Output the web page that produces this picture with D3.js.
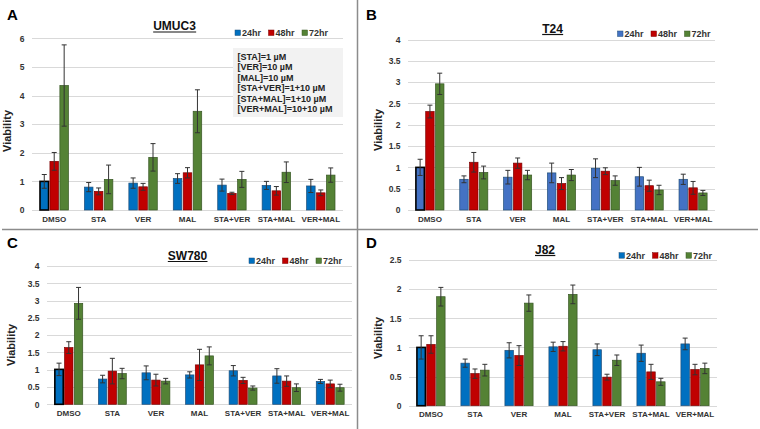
<!DOCTYPE html>
<html><head><meta charset="utf-8">
<script src="https://cdn.jsdelivr.net/npm/d3@7"></script>
<style>
html,body{margin:0;padding:0;background:#fff;}
svg{display:block;font-family:"Liberation Sans",Arial,sans-serif;}
</style></head>
<body><svg id="chart" width="760" height="429"></svg>
<script>
// ---------------- DATA ----------------
const categories = ["DMSO","STA","VER","MAL","STA+VER","STA+MAL","VER+MAL"];
const seriesNames = ["24hr","48hr","72hr"];

// UMUC3 (panel A)
const umuc3_24 = [1.00,0.80,0.94,1.10,0.87,0.86,0.84];
const umuc3_48 = [1.70,0.65,0.81,1.30,0.58,0.67,0.60];
const umuc3_72 = [4.35,1.07,1.84,3.45,1.07,1.32,1.22];
const umuc3_err24 = [0.24,0.16,0.18,0.17,0.21,0.14,0.23];
const umuc3_err48 = [0.31,0.12,0.12,0.18,0.04,0.15,0.10];
const umuc3_err72 = [1.42,0.50,0.48,0.75,0.28,0.36,0.25];
const umuc3_ticks = [0,1,2,3,4,5,6];

// T24 (panel B)
const t24_24 = [1.00,0.72,0.77,0.87,0.98,0.78,0.72];
const t24_48 = [2.31,1.12,1.10,0.62,0.91,0.57,0.52];
const t24_72 = [2.96,0.88,0.82,0.82,0.69,0.47,0.40];
const t24_err24 = [0.19,0.08,0.16,0.23,0.22,0.22,0.12];
const t24_err48 = [0.15,0.23,0.12,0.14,0.08,0.13,0.15];
const t24_err72 = [0.25,0.15,0.11,0.13,0.11,0.11,0.06];
const t24_ticks = [0,0.5,1,1.5,2,2.5,3,3.5,4];

// SW780 (panel C)
const sw780_24 = [1.01,0.73,0.91,0.85,0.97,0.82,0.66];
const sw780_48 = [1.64,0.96,0.70,1.14,0.69,0.67,0.59];
const sw780_72 = [2.92,0.89,0.67,1.40,0.47,0.48,0.48];
const sw780_err24 = [0.18,0.11,0.20,0.09,0.15,0.21,0.06];
const sw780_err48 = [0.17,0.37,0.17,0.45,0.09,0.15,0.11];
const sw780_err72 = [0.46,0.15,0.08,0.26,0.06,0.11,0.10];
const sw780_ticks = [0,0.5,1,1.5,2,2.5,3,3.5,4];

// J82 (panel D)
const j82_24 = [1.00,0.73,0.95,1.01,0.96,0.90,1.06];
const j82_48 = [1.05,0.55,0.86,1.02,0.49,0.58,0.62];
const j82_72 = [1.87,0.61,1.76,1.91,0.78,0.41,0.64];
const j82_err24 = [0.20,0.07,0.13,0.08,0.10,0.14,0.10];
const j82_err48 = [0.15,0.08,0.17,0.08,0.05,0.13,0.09];
const j82_err72 = [0.16,0.10,0.14,0.16,0.09,0.06,0.09];
const j82_ticks = [0,0.5,1,1.5,2,2.5];

const concentrationNotes = ["[STA]=1 µM","[VER]=10 µM","[MAL]=10 µM","[STA+VER]=1+10 µM","[STA+MAL]=1+10 µM","[VER+MAL]=10+10 µM"];

// ---------------- LAYOUT ----------------
const svg = d3.select("#chart");
const colorsStd = ["#0070C0","#C00000","#548235"];
const colorsB   = ["#4472C4","#C00000","#548235"];
const strokes   = ["#1F4E79","#7A0000","#375623"];

const panels = [
  {letter:"A", title:"UMUC3", lx:7, ly:20, left:32, right:343, y0:210, yTop:38.3, max:6, ticks:umuc3_ticks,
   vals:[umuc3_24,umuc3_48,umuc3_72], errs:[umuc3_err24,umuc3_err48,umuc3_err72],
   tx:174.5, ty:30, legX:235, legY:33, vx:11, vy:131, colors:colorsStd},
  {letter:"B", title:"T24", lx:366, ly:20, left:408, right:715, y0:210, yTop:39.5, max:4, ticks:t24_ticks,
   vals:[t24_24,t24_48,t24_72], errs:[t24_err24,t24_err48,t24_err72],
   tx:552.5, ty:32.5, legX:617.5, legY:34, vx:382, vy:130, colors:colorsB},
  {letter:"C", title:"SW780", lx:7, ly:248, left:47, right:352, y0:404.3, yTop:266, max:4, ticks:sw780_ticks,
   vals:[sw780_24,sw780_48,sw780_72], errs:[sw780_err24,sw780_err48,sw780_err72],
   tx:187.5, ty:259.5, legX:249, legY:261, vx:15, vy:345, colors:colorsStd},
  {letter:"D", title:"J82", lx:366, ly:248, left:409, right:717, y0:405.7, yTop:260, max:2.5, ticks:j82_ticks,
   vals:[j82_24,j82_48,j82_72], errs:[j82_err24,j82_err48,j82_err72],
   tx:545, ty:253.5, legX:619, legY:255.7, vx:382, vy:338, colors:colorsStd}
];

// dividers
svg.append("line").attr("x1",2).attr("x2",758).attr("y1",229.5).attr("y2",229.5)
  .attr("stroke","#8c8c8c").attr("stroke-width",1.5);
svg.append("line").attr("x1",357.5).attr("x2",357.5).attr("y1",0).attr("y2",429)
  .attr("stroke","#8c8c8c").attr("stroke-width",1.5);

panels.forEach(p => {
  const g = svg.append("g");
  const y = d3.scaleLinear().domain([0,p.max]).range([p.y0,p.yTop]);
  const x0 = d3.scaleBand().domain(categories).range([p.left,p.right]).paddingInner(0.36).paddingOuter(0.18);
  const x1 = d3.scaleBand().domain(seriesNames).range([0,x0.bandwidth()]).paddingInner(0.14);

  // gridlines
  g.selectAll(".grid").data(p.ticks).join("line")
    .attr("x1",p.left).attr("x2",p.right)
    .attr("y1",d=>Math.round(y(d))+0.5).attr("y2",d=>Math.round(y(d))+0.5)
    .attr("stroke","#d9d9d9").attr("stroke-width",1);

  // y axis tick labels
  const yAxis = d3.axisLeft(y).tickValues(p.ticks).tickSize(0).tickPadding(7.5).tickFormat(d3.format("~g"));
  const ya = g.append("g").attr("transform",`translate(${p.left},0)`).call(yAxis);
  ya.select(".domain").remove();
  ya.selectAll("text").attr("font-size",8.5).attr("font-weight","bold").attr("fill","#333")
    .attr("font-family","Liberation Sans, Arial, sans-serif");

  // x axis labels
  const xAxis = d3.axisBottom(x0).tickSize(0).tickPadding(6);
  const xa = g.append("g").attr("transform",`translate(0,${p.y0})`).call(xAxis);
  xa.select(".domain").remove();
  xa.selectAll("text").attr("font-size",8).attr("font-weight","bold").attr("fill","#333")
    .attr("font-family","Liberation Sans, Arial, sans-serif");

  // bars
  p.vals.forEach((arr,si) => {
    const s = seriesNames[si];
    g.selectAll(".bar"+si).data(arr).join("rect")
      .attr("x",(d,i)=>x0(categories[i])+x1(s))
      .attr("width",x1.bandwidth())
      .attr("y",d=>y(d))
      .attr("height",d=>p.y0-y(d))
      .attr("fill",p.colors[si])
      .attr("stroke",(d,i)=> (i===0 && si===0) ? "#000" : strokes[si])
      .attr("stroke-width",(d,i)=> (i===0 && si===0) ? 1.6 : 0.7);
  });
  // error bars
  p.vals.forEach((arr,si) => {
    const s = seriesNames[si];
    const eg = g.append("g").attr("stroke","#333").attr("stroke-width",1);
    arr.forEach((v,i) => {
      const e = p.errs[si][i];
      const cx = x0(categories[i])+x1(s)+x1.bandwidth()/2;
      const yt = y(v+e), yb = y(v-e);
      eg.append("line").attr("x1",cx).attr("x2",cx).attr("y1",yt).attr("y2",yb);
      eg.append("line").attr("x1",cx-2.5).attr("x2",cx+2.5).attr("y1",yt).attr("y2",yt);
      eg.append("line").attr("x1",cx-2.5).attr("x2",cx+2.5).attr("y1",yb).attr("y2",yb);
    });
  });

  // panel letter
  g.append("text").attr("x",p.lx).attr("y",p.ly).text(p.letter)
    .attr("font-size",15).attr("font-weight","bold").attr("fill","#000");

  // title (underlined)
  const t = g.append("text").attr("x",p.tx).attr("y",p.ty).attr("text-anchor","middle")
    .attr("font-size",12).attr("font-weight","bold").attr("fill","#111").text(p.title);
  const bb = t.node().getBBox();
  g.append("line").attr("x1",bb.x).attr("x2",bb.x+bb.width).attr("y1",p.ty+2).attr("y2",p.ty+2)
    .attr("stroke","#111").attr("stroke-width",1.2);

  // y label
  g.append("text").attr("transform",`translate(${p.vx},${p.vy}) rotate(-90)`)
    .attr("text-anchor","middle").attr("font-size",11).attr("font-weight","bold").attr("fill","#222")
    .text("Viability");

  // legend
  const lg = g.append("g");
  seriesNames.forEach((s,si) => {
    const lx = p.legX + si*33.5;
    lg.append("rect").attr("x",lx).attr("y",p.legY-3).attr("width",5.5).attr("height",5.5)
      .attr("fill",p.colors[si]).attr("stroke",strokes[si]).attr("stroke-width",0.5);
    lg.append("text").attr("x",lx+7).attr("y",p.legY+3.3).text(s)
      .attr("font-size",9).attr("font-weight","bold").attr("fill","#333");
  });
});

// annotation box in panel A
const ann = svg.append("g");
ann.append("rect").attr("x",233).attr("y",48).attr("width",110).attr("height",69).attr("fill","#f2f2f2");
ann.selectAll("text").data(concentrationNotes).join("text")
  .attr("x",237.5).attr("y",(d,i)=>60+i*10.4).text(d=>d)
  .attr("font-size",9).attr("font-weight","bold").attr("fill","#222");
</script></body></html>
